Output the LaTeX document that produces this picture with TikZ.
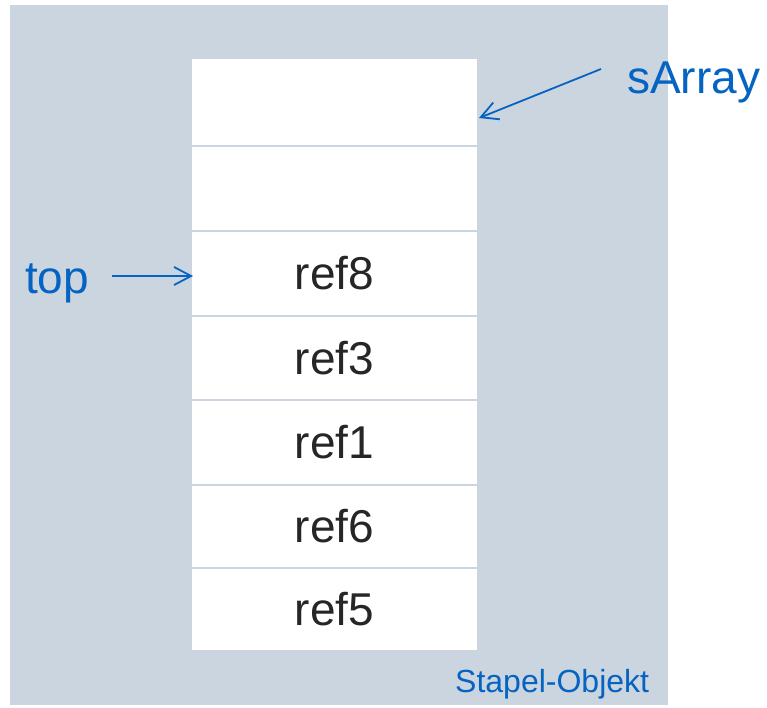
\documentclass[tikz,border=0pt]{standalone}
\usepackage{fontspec}
\setmainfont{Liberation Sans}
\usetikzlibrary{arrows.meta}
\definecolor{bgcol}{HTML}{CBD5E0}
\definecolor{bluecol}{HTML}{0563C1}
\definecolor{txtcol}{HTML}{262626}
\tikzset{
  cell/.style={draw=bgcol, line width=2pt, fill=white, minimum width=287pt, inner sep=0pt, outer sep=0pt, text=txtcol, font=\fontsize{46}{50}\selectfont},
  biglabel/.style={text=bluecol, font=\fontsize{46}{50}\selectfont, inner sep=0pt},
  smalllabel/.style={text=bluecol, font=\fontsize{32}{36}\selectfont, inner sep=0pt},
  arr/.style={draw=bluecol, line width=1.8pt, -{Straight Barb[length=17pt,width=18pt,line width=1.8pt]}}
}
\begin{document}
\begin{tikzpicture}[x=1pt,y=-1pt]
\useasboundingbox (0,0) rectangle (767,707);
\fill[bgcol] (10,5) rectangle (668,705);
\foreach \i/\a/\b/\t in {1/58/146/,2/146/231/,3/231/316/ref8,4/316/400/ref3,5/400/485/ref1,6/485/568/ref6,7/568/651/ref5}{
  \node[cell, minimum height={(\b-\a)*1pt}] (c\i) at (334.5,{(\a+\b)/2}) {\t};
}
\node[biglabel, anchor=base west] (sArray) at (627,93) {sArray};
\node[biglabel, anchor=base west] (top) at (25,293) {top};
\node[smalllabel, anchor=base west] (stapel) at (455,692) {Stapel-Objekt};
\coordinate (sastart) at (601,69);
\coordinate (saend) at (479,118);
\coordinate (topstart) at (112,276);
\coordinate (topend) at (193,276);
\draw[arr] (sastart) -- (saend);
\draw[arr] (topstart) -- (topend);
\end{tikzpicture}
\end{document}
